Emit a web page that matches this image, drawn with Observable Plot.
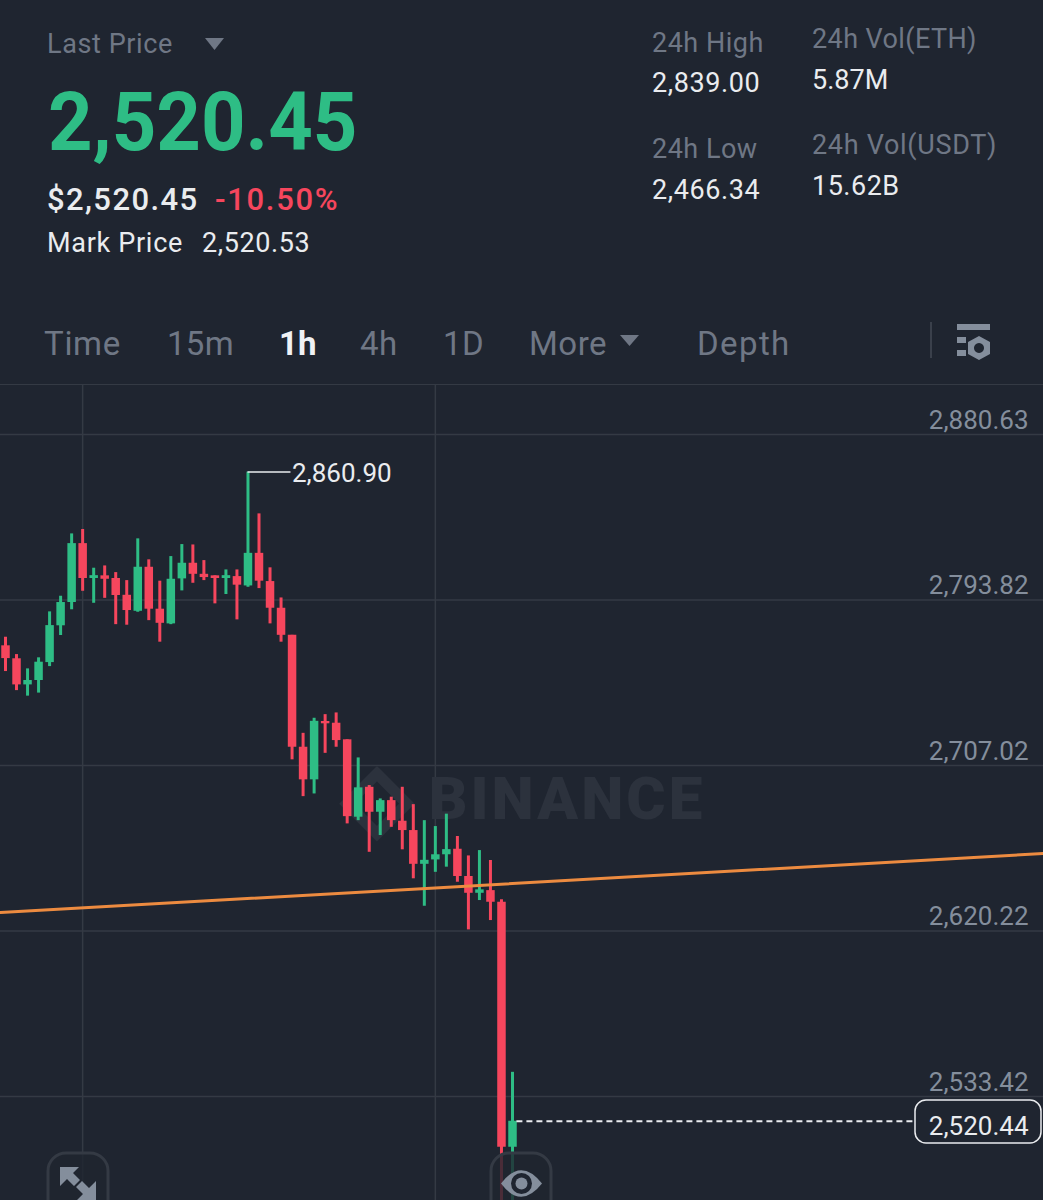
<!DOCTYPE html>
<html>
<head>
<meta charset="utf-8">
<script src="https://cdn.jsdelivr.net/npm/d3@7"></script>
<script src="https://cdn.jsdelivr.net/npm/@observablehq/plot@0.6"></script>
<style>
  html, body { margin:0; padding:0; background:#1f2530; }
  #page { position:relative; width:1043px; height:1200px; overflow:hidden; background:#1f2530; font-family:Roboto, sans-serif; }
  #header { position:relative; height:384px; border-bottom:1px solid #343a44; }
  .t { position:absolute; white-space:nowrap; line-height:1; transform:translateY(-50%); }
  .g { color:#6f7785; }
  .w { color:#eaecef; }
  #overlay { position:absolute; left:0; top:0; }
  #chart svg { display:block; }
</style>
</head>
<body>
<div id="page">
  <div id="header">
    <span class="t g" style="left:47px;top:44px;font-size:27px;letter-spacing:.6px">Last Price</span>
    <span class="t" style="left:48px;top:122px;font-size:81px;font-weight:700;color:#2ebd85;transform:translateY(-50%) scaleX(.96);transform-origin:left center">2,520.45</span>
    <span class="t w" style="left:47px;top:199px;font-size:31px;font-weight:500;letter-spacing:1.4px">$2,520.45</span>
    <span class="t" style="left:215px;top:199px;font-size:31px;font-weight:500;color:#f6465d;letter-spacing:1.7px">-10.50%</span>
    <span class="t w" style="left:47px;top:243px;font-size:27px;letter-spacing:.7px">Mark Price</span>
    <span class="t w" style="left:202px;top:243px;font-size:27px;letter-spacing:.6px">2,520.53</span>
    <span class="t g" style="left:652px;top:43px;font-size:27px;letter-spacing:.5px">24h High</span>
    <span class="t w" style="left:652px;top:83px;font-size:27px;letter-spacing:.6px">2,839.00</span>
    <span class="t g" style="left:652px;top:149px;font-size:27px;letter-spacing:.5px">24h Low</span>
    <span class="t w" style="left:652px;top:190px;font-size:27px;letter-spacing:.6px">2,466.34</span>
    <span class="t g" style="left:812px;top:39px;font-size:27px;letter-spacing:.4px">24h Vol(ETH)</span>
    <span class="t w" style="left:812px;top:80px;font-size:27px">5.87M</span>
    <span class="t g" style="left:812px;top:145px;font-size:27px;letter-spacing:.7px">24h Vol(USDT)</span>
    <span class="t w" style="left:812px;top:186px;font-size:27px;letter-spacing:.5px">15.62B</span>
    <span class="t g" style="left:44px;top:343px;font-size:33px;letter-spacing:.7px">Time</span>
    <span class="t g" style="left:167px;top:343px;font-size:33px;letter-spacing:.3px">15m</span>
    <span class="t" style="left:279px;top:343px;font-size:33px;font-weight:700;color:#f0f2f5">1h</span>
    <span class="t g" style="left:360px;top:343px;font-size:33px;letter-spacing:.5px">4h</span>
    <span class="t g" style="left:443px;top:343px;font-size:33px;letter-spacing:.5px">1D</span>
    <span class="t g" style="left:529px;top:343px;font-size:33px;letter-spacing:.5px">More</span>
    <span class="t g" style="left:697px;top:343px;font-size:33px;letter-spacing:1.4px">Depth</span>
  </div>
  <div id="chart"></div>
  <svg id="overlay" width="1043" height="1200" fill="none">
    <path d="M205 38h19l-9.500 12z" fill="#6f7785"/>
    <path d="M620 335h19l-9.500 11z" fill="#6f7785"/>
    <rect x="930" y="322" width="2" height="36" fill="#3a404b"/>
    <g fill="#848e9c">
      <rect x="957" y="324" width="33" height="6"/>
      <rect x="957" y="337" width="9" height="6"/>
      <rect x="957" y="350" width="9" height="6"/>
      <path fill-rule="evenodd" d="M979 336l11 6v12l-11 6l-11-6v-12zM979 343a5 5 0 1 0 0.010 0z"/>
    </g>
    <rect x="48" y="1153" width="60" height="70" rx="18" fill="#1f2530" fill-opacity="0.8" stroke="#343a44" stroke-width="3"/>
    <g fill="#848e9c">
      <path d="M60 1167h19l-6 6l7 7l-6 6l-7-7l-7 7z"/>
      <path d="M96 1200h-19l6-6l-7-7l6-6l7 7l7-7z"/>
    </g>
    <rect x="491" y="1153" width="60" height="70" rx="18" fill="#1f2530" fill-opacity="0.8" stroke="#343a44" stroke-width="3"/>
    <path d="M501 1183.500Q521 1157 542 1183.500Q521 1210 501 1183.500z" fill="#848e9c"/>
    <circle cx="521.500" cy="1183.500" r="10.500" fill="#1f2530"/>
    <circle cx="521.500" cy="1183.500" r="6" fill="#848e9c"/>
    <rect x="915" y="1100" width="126" height="43" rx="11" fill="none" stroke="#eaecef" stroke-width="1.500"/>
  </svg>
</div>
<script>
// Hourly candles, ETH/USDT
const candleOpen  = [2769.8,2763.0,2749.3,2751.6,2761.0,2780.3,2792.5,2823.4,2805.1,2806.5,2805.1,2796.3,2787.9,2811.0,2789.0,2781.3,2804.9,2813.1,2807.3,2806.5,2805.1,2806.1,2801.2,2818.3,2803.5,2789.5,2775.3,2716.6,2699.5,2730.1,2729.2,2720.5,2679.9,2695.6,2682.5,2688.6,2677.8,2672.9,2655.2,2657.5,2660.2,2663.1,2648.8,2640.0,2641.4,2635.3,2506.8];
const candleClose = [2763.1,2749.3,2751.6,2761.2,2780.4,2792.5,2823.4,2805.1,2806.6,2804.7,2796.2,2788.3,2811.0,2789.0,2781.6,2804.7,2813.1,2807.3,2805.6,2805.1,2806.6,2801.6,2818.3,2803.7,2789.5,2775.3,2716.6,2699.5,2730.2,2728.9,2720.1,2680.2,2695.3,2682.5,2688.6,2678.1,2672.9,2655.2,2657.3,2660.2,2662.9,2648.8,2640.0,2641.8,2635.3,2506.8,2520.44];
const candleHigh  = [2774.3,2765.2,2757.7,2763.5,2787.6,2795.8,2828.5,2830.8,2810.5,2811.7,2808.2,2804.0,2825.9,2814.9,2803.7,2816.6,2822.9,2822.7,2814.5,2806.5,2809.6,2809.6,2860.9,2839.0,2810.7,2794.9,2775.3,2723.9,2731.8,2733.7,2734.6,2720.5,2711.0,2696.5,2689.5,2690.4,2695.6,2686.5,2678.1,2675.0,2681.5,2669.8,2659.6,2662.4,2657.2,2636.6,2546.1];
const candleLow   = [2756.3,2746.3,2743.4,2745.0,2758.9,2775.2,2788.7,2798.4,2792.1,2794.7,2780.9,2780.6,2787.4,2783.0,2771.7,2780.9,2798.6,2802.6,2804.0,2791.8,2796.7,2783.4,2800.5,2799.8,2781.3,2771.7,2710.0,2690.7,2692.1,2713.4,2716.6,2676.4,2678.1,2661.5,2670.3,2674.6,2662.8,2647.6,2633.2,2651.0,2653.7,2645.8,2620.8,2636.2,2625.7,2466.34,2470.0];

const axisPrices = [2880.63, 2793.82, 2707.02, 2620.22, 2533.42];
const axisLabels = ["2,880.63", "2,793.82", "2,707.02", "2,620.22", "2,533.42"];
const gridHours  = [7, 39];
const peakPrice = 2860.90, peakLabel = "2,860.90", peakHour = 22;
const lastPrice = 2520.44, lastLabel = "2,520.44", lastHour = 46;
const trendHours  = [-0.45, 94.2];
const trendPrices = [2629.9, 2660.9];

const candles = candleOpen.map((o, i) => ({i, o, c: candleClose[i], h: candleHigh[i], l: candleLow[i],
  color: candleClose[i] >= o ? "#2ebd85" : "#f6465d"}));
const trend = trendHours.map((x, k) => ({x, y: trendPrices[k]}));

const plot = Plot.plot({
  width: 1043, height: 815,
  marginLeft: 0, marginRight: 0, marginTop: 0, marginBottom: 0,
  style: {background: "transparent", fontFamily: "Roboto, sans-serif"},
  x: {domain: [0, 46], range: [5, 512], axis: null},
  y: {domain: [2880.63, 2533.42], range: [49, 711], axis: null},
  color: {type: "identity"},
  marks: [
    Plot.ruleY(axisPrices, {stroke: "#343a44", strokeWidth: 1.5}),
    Plot.ruleX(gridHours, {stroke: "#343a44", strokeWidth: 1.5}),
    Plot.dot([{x: 33.7, y: 2687}], {x: "x", y: "y", symbol: "diamond2", r: 27, stroke: "#2c323d", strokeWidth: 11, fill: "none"}),
    Plot.text(["BINANCE"], {x: [38.4], y: [2689], text: d => d, textAnchor: "start", fontSize: 60, fontWeight: 900, fill: "#2c323d"}),
    Plot.ruleX(candles, {x: "i", y1: "l", y2: "h", stroke: "color", strokeWidth: 3, clip: true}),
    Plot.ruleX(candles, {x: "i", y1: "o", y2: "c", stroke: "color", strokeWidth: 8.5}),
    Plot.line(trend, {x: "x", y: "y", stroke: "#ec8b40", strokeWidth: 3}),
    Plot.ruleY([peakPrice], {x1: peakHour, x2: 25.9, stroke: "#eaecef", strokeWidth: 1.5}),
    Plot.text([peakLabel], {x: [25.9], y: [peakPrice], text: d => d, textAnchor: "start", dx: 1, dy: 2, fontSize: 26, fill: "#eaecef"}),
    Plot.text(axisLabels, {y: axisPrices, text: d => d, frameAnchor: "right", dx: -15, dy: -14, fontSize: 26, fill: "#848e9c"}),
    Plot.ruleY([lastPrice], {x1: 46.4, x2: 82.5, stroke: "#eaecef", strokeWidth: 2, strokeDasharray: "6,4"}),
    Plot.text([lastLabel], {y: [lastPrice], text: d => d, frameAnchor: "right", dx: -15, dy: 5, fontSize: 26, fill: "#eaecef"})
  ]
});
document.getElementById("chart").appendChild(plot);
// the watermark's tracking
d3.select(plot).selectAll("text").filter(function () { return this.textContent === "BINANCE"; }).style("letter-spacing", "3px");
</script>
</body>
</html>
